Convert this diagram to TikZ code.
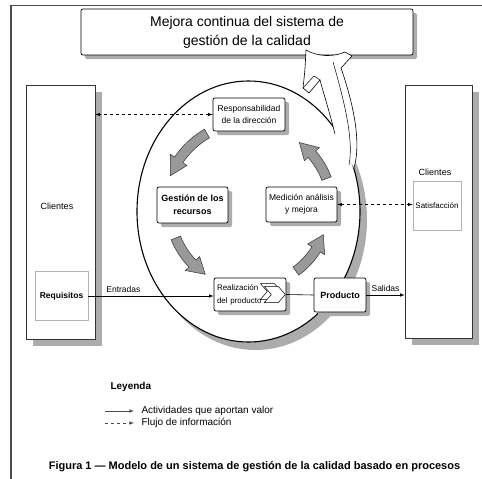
\documentclass[tikz,border=0pt]{standalone}
\usepackage{fontspec}
\setmainfont{Liberation Sans}
\usetikzlibrary{shadows}
\begin{document}
\begin{tikzpicture}[x=1pt, y=-1pt, >=latex,
    box/.style={draw=black, fill=white, rounded corners=2pt, line width=0.7pt, inner sep=0pt, align=center,
        drop shadow={shadow xshift=4pt, shadow yshift=-4pt, fill=gray!65, opacity=1}},
    clibox/.style={draw=black!80, fill=white, line width=0.6pt, inner sep=0pt,
        drop shadow={shadow xshift=7pt, shadow yshift=-7pt, fill=gray!65, opacity=1}},
    subbox/.style={draw=gray!60, fill=white, line width=0.6pt, inner sep=0pt},
    txt/.style={font=\fontsize{8.5}{12}\selectfont, align=center},
    btxt/.style={font=\bfseries\fontsize{9}{13}\selectfont, align=center},
    cyc/.style={draw=black!80, fill=gray!80, line width=0.5pt},
    flow/.style={->, line width=0.6pt},
    info/.style={<->, dashed, line width=0.6pt}]
    \useasboundingbox (0,0) rectangle (482,479);
    \draw[black!70, line width=1.2pt] (11,479) -- (11,5.5) -- (482,5.5);

    % circle of the process
    \fill[gray!65] (255.5,219.5) ellipse [x radius=111.5, y radius=130.5];
    \draw[line width=1.1pt, fill=white] (248.5,211.5) ellipse [x radius=111.5, y radius=130.5];

    \node[box, minimum width=332pt, minimum height=46pt, font=\fontsize{14}{19}\selectfont, name=title] at (247,32) {Mejora continua del sistema de\\gestión de la calidad};

    % big arrow to the top box
    \fill[white] (335,134) .. controls (329,110) and (324,95) .. (320,80) -- (309,93) -- (303,88)
        .. controls (305,70) .. (306,50) .. controls (318,57) and (334,57) .. (345,52)
        -- (352,56) -- (341,68) .. controls (352,100) and (362,140) .. (354,168) -- cycle;
    \draw[line width=0.6pt] (335,134) .. controls (329,110) and (324,95) .. (320,80) -- (309,93) -- (303,88)
        .. controls (305,70) .. (306,50) .. controls (318,57) and (334,57) .. (345,52)
        -- (352,56) -- (341,68) .. controls (352,100) and (362,140) .. (354,168);
    \draw[line width=0.5pt] (333,62) .. controls (344,100) and (354,140) .. (349,165);
    \draw[line width=0.5pt] (303,88) -- (314,76) -- (320,80);

    % clientes
    \node[clibox, minimum width=69pt, minimum height=254pt, name=cliL] at (60.5,212) {};
    \node[txt, font=\fontsize{9}{12}\selectfont, name=cliLtxt] at (57,206) {Clientes};
    \node[subbox, minimum width=53pt, minimum height=49pt, font=\bfseries\fontsize{8.5}{12}\selectfont, name=req] at (61.5,296) {Requisitos};

    \node[clibox, minimum width=67pt, minimum height=253pt, name=cliR] at (438.5,211.5) {};
    \node[txt, font=\fontsize{9}{12}\selectfont, name=cliRtxt] at (435,172) {Clientes};
    \node[subbox, minimum width=48pt, minimum height=49pt, font=\fontsize{8}{12}\selectfont, name=sat] at (437,205.5) {Satisfacción};

    % process boxes
    \node[box, txt, minimum width=72pt, minimum height=33pt, name=resp] at (249,114.5) {Responsabilidad\\de la dirección};
    \node[box, btxt, minimum width=71pt, minimum height=36pt, name=gest] at (192.5,205) {Gestión de los\\recursos};
    \node[box, txt, minimum width=71pt, minimum height=35pt, name=medi] at (301.5,204.5) {Medición análisis\\y mejora};
    \node[box, minimum width=72pt, minimum height=33pt, text width=66pt, inner xsep=3pt, align=left, font=\fontsize{8}{13}\selectfont, name=real] at (250,294.5) {Realización\\del producto};
    \node[box, btxt, minimum width=52pt, minimum height=34pt, name=prod] at (340,295) {Producto};

    \begin{scope}[shift={(real.east)}]
        \draw[fill=white, line width=0.5pt] (-5,-3) -- (-12,-11) -- (-26,-11) -- (-19,-3) -- (-26,5) -- (-12,5) -- cycle;
        \draw[fill=white, line width=0.5pt] (-1,0) -- (-8,-8) -- (-22,-8) -- (-15,0) -- (-22,8) -- (-8,8) -- cycle;
    \end{scope}

    % gray arrows of the cycle
    \foreach \a/\b/\r in {240/202/86, 158/124/80, 54/20/78, -21/-53/82}{
        \pgfmathsetmacro\h{\b+12}
        \pgfmathsetmacro\ro{\r+5}
        \pgfmathsetmacro\ri{\r-5}
        \pgfmathsetmacro\bo{\r+10}
        \pgfmathsetmacro\bi{\r-10}
        \draw[cyc, shift={(250,208)}] (\a:\ro) arc[start angle=\a, end angle=\h, radius=\ro] -- (\h:\bo) -- (\b:\r)
            -- (\h:\bi) -- (\h:\ri) arc[start angle=\h, end angle=\a, radius=\ri] -- cycle;
    }

    \draw[flow] (req.east) -- (req.east -| real.west) node[pos=0.28, above, txt] (entr) {Entradas};
    \draw[line width=0.6pt] (real.east) -- (prod.west);
    \draw[flow] (prod.east) -- (prod.east -| cliR.west) node[midway, above, txt] (sal) {Salidas};
    \draw[info] (resp.west) -- (resp.west -| cliL.east);
    \draw[info] (medi.east) -- (medi.east -| sat.west);

    % legend
    \node[anchor=west, font=\bfseries\fontsize{10}{12}\selectfont, name=ley] at (107,387) {Leyenda};
    \coordinate (va) at (105,411);
    \coordinate (vb) at (134,411);
    \coordinate (ia) at (105,423);
    \coordinate (ib) at (134,423);
    \draw[flow, black!70] (va) -- (vb);
    \draw[info, -latex, black!70] (ia) -- (ib);
    \node[anchor=west, font=\fontsize{10}{12}\selectfont, name=valor] at ([xshift=4pt]vb) {Actividades que aportan valor};
    \node[anchor=west, font=\fontsize{10}{12}\selectfont, name=flujo] at ([xshift=4pt]ib) {Flujo de información};

    \node[font=\bfseries\fontsize{11}{13}\selectfont, name=fig] at (254.5,467) {Figura 1 — Modelo de un sistema de gestión de la calidad basado en procesos};
\end{tikzpicture}
\end{document}
